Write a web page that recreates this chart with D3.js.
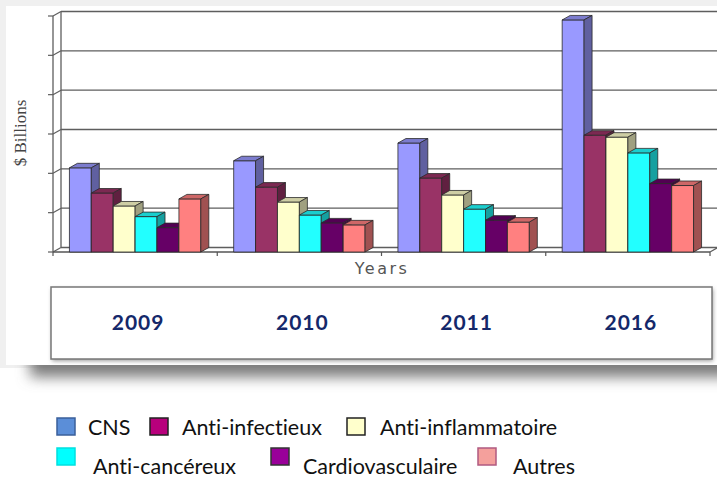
<!DOCTYPE html>
<html>
<head>
<meta charset="utf-8">
<script src="https://cdn.jsdelivr.net/npm/d3@7"></script>
<style>
  body { margin: 0; background: #fff; }
  svg { display: block; }
  text { font-variant-ligatures: none; font-feature-settings: "liga" 0, "clig" 0; }
</style>
</head>
<body>
<div id="vis"></div>
<script>
var width = 717;
var height = 479;

var YEARS = ['2009', '2010', '2011', '2016'];
var SERIES = ['CNS', 'Anti-infectieux', 'Anti-inflammatoire', 'Anti-cancéreux', 'Cardiovasculaire', 'Autres'];
// values in grid units ($ Billions axis has no labels)
var CNS = [2.14, 2.32, 2.77, 5.9];
var ANTI_INFECTIEUX = [1.5, 1.65, 1.88, 2.97];
var ANTI_INFLAMMATOIRE = [1.17, 1.27, 1.45, 2.92];
var ANTI_CANCEREUX = [0.9, 0.94, 1.09, 2.52];
var CARDIOVASCULAIRE = [0.62, 0.74, 0.81, 1.74];
var AUTRES = [1.35, 0.69, 0.76, 1.69];
var Y_DOMAIN = [0, 6];

var BAR_COLORS = ['#9999ff', '#993366', '#ffffcc', '#22ffff', '#660066', '#ff8080'];
var LEGEND_COLORS = ['#5b8ed8', '#b8007c', '#ffffcc', '#00ffff', '#990099', '#f4a09c'];
var LEGEND_STROKES = ['#3a5f9a', '#222', '#222', '#00e0e0', '#333', '#b05a80'];

var values = [CNS, ANTI_INFECTIEUX, ANTI_INFLAMMATOIRE, ANTI_CANCEREUX, CARDIOVASCULAIRE, AUTRES];

var dx = 8, dy = -4.5; // 3d depth offset
var x0 = d3.scaleBand().domain(YEARS).range([53, 710]).paddingInner(0.2).paddingOuter(0.1);
var x1 = d3.scaleBand().domain(SERIES).range([0, x0.bandwidth()]);
var y = d3.scaleLinear().domain(Y_DOMAIN).range([252, 16]);

var svg = d3.select('#vis').append('svg')
    .attr('width', width)
    .attr('height', height);

var defs = svg.append('defs');
defs.append('filter').attr('id', 'blur').attr('x', '-20%').attr('y', '-50%').attr('width', '140%').attr('height', '200%')
  .append('feGaussianBlur').attr('stdDeviation', 7);
defs.append('filter').attr('id', 'blur2')
  .append('feGaussianBlur').attr('stdDeviation', 2);

// panel background and shadow
svg.append('rect').attr('x', 0).attr('y', 0).attr('width', width).attr('height', 368).attr('fill', '#f0f0f0');
svg.append('rect').attr('x', 30).attr('y', 345).attr('width', 720).attr('height', 32)
   .attr('fill', '#7a7a7a').attr('filter', 'url(#blur)');
svg.append('rect').attr('x', 6).attr('y', 6).attr('width', 711).attr('height', 359).attr('fill', '#fff');

var chart = svg.append('g');
var grid = '#5e5e5e';

// back wall gridlines
y.ticks(6).forEach(function(t) {
  chart.append('line')
    .attr('x1', 53 + dx).attr('x2', 717)
    .attr('y1', y(t) + dy).attr('y2', y(t) + dy)
    .attr('stroke', grid).attr('stroke-width', 1.4);
  // side wall diagonal
  chart.append('line')
    .attr('x1', 53).attr('x2', 53 + dx)
    .attr('y1', y(t)).attr('y2', y(t) + dy)
    .attr('stroke', grid).attr('stroke-width', 1.2);
  // tick
  chart.append('line')
    .attr('x1', 48).attr('x2', 53)
    .attr('y1', y(t)).attr('y2', y(t))
    .attr('stroke', grid).attr('stroke-width', 1.2);
});

// side wall edges
chart.append('line').attr('x1', 53).attr('x2', 53).attr('y1', y(6)).attr('y2', y(0))
  .attr('stroke', grid).attr('stroke-width', 1.3);
chart.append('line').attr('x1', 53 + dx).attr('x2', 53 + dx).attr('y1', y(6) + dy).attr('y2', y(0) + dy)
  .attr('stroke', grid).attr('stroke-width', 1.3);

// floor
chart.append('line').attr('x1', 53).attr('x2', 710).attr('y1', y(0)).attr('y2', y(0))
  .attr('stroke', '#555').attr('stroke-width', 1.3);
chart.append('line').attr('x1', 710).attr('x2', 710 + dx).attr('y1', y(0)).attr('y2', y(0) + dy)
  .attr('stroke', grid).attr('stroke-width', 1.2);

// category ticks
var bounds = [53].concat(YEARS.map(function(d) { return x0(d) + x0.bandwidth() + x0.step() * 0.1; }));
bounds.forEach(function(b) {
  chart.append('line').attr('x1', b).attr('x2', b).attr('y1', y(0)).attr('y2', y(0) + 4)
    .attr('stroke', '#555').attr('stroke-width', 1.2);
});

// bars
var bw = x1.bandwidth();
YEARS.forEach(function(year, i) {
  SERIES.forEach(function(s, j) {
    var v = values[j][i];
    var c = BAR_COLORS[j];
    var bx = x0(year) + x1(s);
    var yt = y(v), yb = y(0);
    var g = chart.append('g').attr('stroke', '#2a2a2a').attr('stroke-width', 0.8).attr('stroke-linejoin', 'round');
    g.append('rect').attr('x', bx).attr('y', yt).attr('width', bw).attr('height', yb - yt).attr('fill', c);
    g.append('polygon')
      .attr('points', [[bx, yt], [bx + dx, yt + dy], [bx + bw + dx, yt + dy], [bx + bw, yt]].join(' '))
      .attr('fill', d3.color(c).darker(0.6));
    g.append('polygon')
      .attr('points', [[bx + bw, yt], [bx + bw + dx, yt + dy], [bx + bw + dx, yb + dy], [bx + bw, yb]].join(' '))
      .attr('fill', d3.color(c).darker(1.3));
  });
});

// axis titles
svg.append('text')
  .attr('transform', 'translate(26,133)rotate(-90)')
  .attr('text-anchor', 'middle')
  .attr('font-family', '"Liberation Serif", serif')
  .attr('font-size', 17)
  .attr('fill', '#444')
  .text('$ Billions');

svg.append('text')
  .attr('x', 382).attr('y', 274)
  .attr('text-anchor', 'middle')
  .attr('font-family', '"DejaVu Sans", sans-serif')
  .attr('font-size', 16)
  .attr('letter-spacing', 2.5)
  .attr('fill', '#555')
  .text('Years');

// year box
svg.append('rect').attr('x', 52).attr('y', 289).attr('width', 661).attr('height', 72)
  .attr('fill', '#999').attr('filter', 'url(#blur2)');
svg.append('rect').attr('x', 51).attr('y', 287).attr('width', 661).attr('height', 72)
  .attr('fill', '#fff').attr('stroke', '#777').attr('stroke-width', 1.5);

svg.append('g').selectAll('text')
  .data(YEARS)
  .enter()
  .append('text')
  .attr('x', function(d) { return x0(d) + x0.bandwidth() / 2 + 3; })
  .attr('y', 330)
  .attr('text-anchor', 'middle')
  .attr('font-family', 'Lato, sans-serif')
  .attr('font-weight', 'bold')
  .attr('font-size', 21)
  .attr('letter-spacing', 1)
  .attr('fill', '#14286a')
  .text(function(d) { return d; });

// legend
var legendPos = [
  {sx: 57, tx: 88, row: 0},
  {sx: 150, tx: 182, row: 0},
  {sx: 347, tx: 380, row: 0},
  {sx: 57, tx: 93, row: 1},
  {sx: 271, tx: 303, row: 1},
  {sx: 478, tx: 513, row: 1}
];
var rowSq = [418, 448];
var rowText = [435, 474];

var legend = svg.append('g');
SERIES.forEach(function(s, j) {
  var p = legendPos[j];
  legend.append('rect')
    .attr('x', p.sx).attr('y', rowSq[p.row])
    .attr('width', 18).attr('height', 17)
    .attr('fill', LEGEND_COLORS[j])
    .attr('stroke', LEGEND_STROKES[j])
    .attr('stroke-width', 1.5);
  legend.append('text')
    .attr('x', p.tx).attr('y', rowText[p.row])
    .attr('font-family', 'Lato, sans-serif')
    .attr('font-size', 21.5)
    .attr('fill', '#111')
    .text(s);
});
</script>
</body>
</html>
